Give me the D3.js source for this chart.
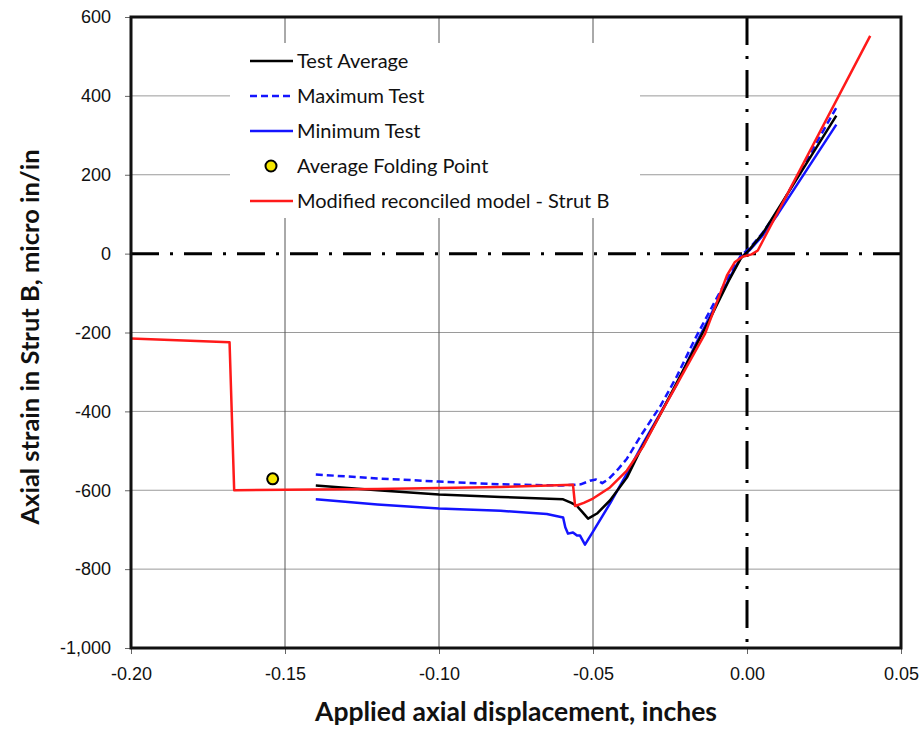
<!DOCTYPE html>
<html>
<head>
<meta charset="utf-8">
<script src="https://cdn.jsdelivr.net/npm/d3@7"></script>
<style>
  body { margin: 0; background: #fff; }
  svg { font-family: Lato, "Open Sans", sans-serif; }
</style>
</head>
<body>
<div id="chart"></div>
<script>
// x: applied axial displacement (in), y: axial strain (micro in/in)
const testAverage = [
  [-0.140, -588], [-0.120, -600], [-0.100, -611], [-0.080, -617], [-0.0597, -623],
  [-0.057, -632], [-0.0552, -640], [-0.0535, -655], [-0.0516, -672], [-0.0487, -659],
  [-0.0445, -626], [-0.039, -568], [-0.0347, -500], [-0.028, -405], [-0.020, -285],
  [-0.012, -165], [-0.006, -70], [-0.002, -12], [0.001, 12], [0.005, 50],
  [0.010, 112], [0.029, 350]
];
const maximumTest = [
  [-0.140, -560], [-0.120, -570], [-0.100, -578], [-0.080, -585], [-0.060, -588],
  [-0.054, -585], [-0.051, -576], [-0.049, -573], [-0.047, -582], [-0.045, -572],
  [-0.042, -548], [-0.039, -520], [-0.034, -456], [-0.028, -385], [-0.0227, -310],
  [-0.017, -218], [-0.010, -115], [-0.005, -45], [-0.002, -5], [0.001, 15],
  [0.005, 52], [0.010, 108], [0.029, 370]
];
const minimumTest = [
  [-0.140, -623], [-0.120, -636], [-0.100, -646], [-0.080, -652], [-0.065, -660],
  [-0.0597, -669], [-0.059, -694], [-0.0581, -710], [-0.0565, -707], [-0.0552, -715],
  [-0.0542, -715], [-0.0526, -738], [-0.050, -705], [-0.0445, -634], [-0.039, -558],
  [-0.0338, -482], [-0.0282, -406], [-0.0227, -330], [-0.017, -235], [-0.010, -128],
  [-0.005, -52], [-0.002, -10], [0.001, 10], [0.005, 45], [0.010, 100], [0.029, 327]
];
const modelStrutB = [
  [-0.200, -215], [-0.168, -225], [-0.1665, -600], [-0.120, -597], [-0.080, -592],
  [-0.0565, -586], [-0.0558, -640], [-0.053, -632], [-0.050, -621], [-0.0445, -593],
  [-0.039, -550], [-0.0338, -490], [-0.028, -405], [-0.0136, -203], [-0.0065, -55],
  [-0.004, -22], [-0.0015, -8], [0.0015, -2], [0.0035, 8], [0.040, 552]
];
const foldingPoint = [[-0.154, -571]];

const xTicks = [-0.20, -0.15, -0.10, -0.05, 0.00, 0.05];
const yTicks = [600, 400, 200, 0, -200, -400, -600, -800, -1000];

const legendItems = [
  { label: "Test Average", type: "line", color: "#000000", dash: null },
  { label: "Maximum Test", type: "line", color: "#1414ff", dash: "7,4" },
  { label: "Minimum Test", type: "line", color: "#1414ff", dash: null },
  { label: "Average Folding Point", type: "dot" },
  { label: "Modified reconciled model - Strut B", type: "line", color: "#ff1a1a", dash: null }
];

const width = 924, height = 732;
const margin = { top: 17, right: 23, bottom: 84, left: 131 };
const w = width - margin.left - margin.right;
const h = height - margin.top - margin.bottom;

// hyphen minus, like the original
const hyphen = (f) => (d) => f(d).replace("\u2212", "-");

const svg = d3.select("#chart").append("svg")
  .attr("width", width)
  .attr("height", height);

const g = svg.append("g")
  .attr("transform", `translate(${margin.left},${margin.top})`);

const x = d3.scaleLinear().domain([-0.20, 0.05]).range([0, w]);
const y = d3.scaleLinear().domain([-1000, 600]).range([h, 0]);

// horizontal grid
g.append("g")
  .selectAll("line")
  .data(yTicks.filter((d) => d !== 0 && d !== 600 && d !== -1000))
  .join("line")
  .attr("x1", 0).attr("x2", w)
  .attr("y1", (d) => y(d)).attr("y2", (d) => y(d))
  .attr("stroke", "#9a9a9a")
  .attr("stroke-width", 1);

// vertical grid
g.append("g")
  .selectAll("line")
  .data(xTicks.filter((d) => d > -0.2 && d < 0))
  .join("line")
  .attr("x1", (d) => x(d)).attr("x2", (d) => x(d))
  .attr("y1", 0).attr("y2", h)
  .attr("stroke", "#555")
  .attr("stroke-width", 1);

// legend background hides the grid behind it
const legendX = 230 - margin.left, legendY = 43 - margin.top;
g.append("rect")
  .attr("x", legendX).attr("y", legendY)
  .attr("width", 410).attr("height", 175)
  .attr("fill", "#fff");

// zero lines, dash-dot
g.append("line")
  .attr("x1", 0).attr("x2", w)
  .attr("y1", y(0)).attr("y2", y(0))
  .attr("stroke", "#000").attr("stroke-width", 3)
  .attr("stroke-dasharray", "28,11,3,11");
g.append("line")
  .attr("x1", x(0)).attr("x2", x(0))
  .attr("y1", 0).attr("y2", h)
  .attr("stroke", "#000").attr("stroke-width", 3)
  .attr("stroke-dasharray", "28,11,3,11");

// axes
const xAxis = g.append("g")
  .attr("transform", `translate(0,${h})`)
  .call(d3.axisBottom(x).tickValues(xTicks).tickFormat(hyphen(d3.format(".2f"))).tickSize(6).tickPadding(10));
const yAxis = g.append("g")
  .call(d3.axisLeft(y).tickValues(yTicks).tickFormat(hyphen(d3.format(","))).tickSize(6).tickPadding(14));

[xAxis, yAxis].forEach((a) => {
  a.select(".domain").remove();
  a.selectAll(".tick line").attr("stroke", "#666");
  a.selectAll("text").attr("font-size", 18).attr("fill", "#111");
});
xAxis.selectAll("text").attr("dy", "0.9em");

// series
const line = d3.line().x((d) => x(d[0])).y((d) => y(d[1]));

const series = [
  { data: minimumTest, color: "#1414ff", dash: null },
  { data: maximumTest, color: "#1414ff", dash: "7,4" },
  { data: testAverage, color: "#000000", dash: null },
  { data: modelStrutB, color: "#ff1a1a", dash: null }
];

g.append("g")
  .selectAll("path")
  .data(series)
  .join("path")
  .attr("d", (d) => line(d.data))
  .attr("fill", "none")
  .attr("stroke", (d) => d.color)
  .attr("stroke-width", 2.5)
  .attr("stroke-linejoin", "round")
  .attr("stroke-dasharray", (d) => d.dash);

g.selectAll(".fold")
  .data(foldingPoint)
  .join("circle")
  .attr("class", "fold")
  .attr("cx", (d) => x(d[0]))
  .attr("cy", (d) => y(d[1]))
  .attr("r", 5.5)
  .attr("fill", "#f5e600")
  .attr("stroke", "#000")
  .attr("stroke-width", 2);

// frame
g.append("rect")
  .attr("x", 0).attr("y", 0)
  .attr("width", w).attr("height", h)
  .attr("fill", "none")
  .attr("stroke", "#111")
  .attr("stroke-width", 3);

// legend
const legend = svg.append("g");
const rows = legend.selectAll("g")
  .data(legendItems)
  .join("g")
  .attr("transform", (d, i) => `translate(250,${61 + i * 35})`);

rows.filter((d) => d.type === "line")
  .append("line")
  .attr("x1", 0).attr("x2", 43)
  .attr("stroke", (d) => d.color)
  .attr("stroke-width", 2.5)
  .attr("stroke-dasharray", (d) => d.dash);

rows.filter((d) => d.type === "dot")
  .append("circle")
  .attr("cx", 21).attr("r", 5.5)
  .attr("fill", "#f5e600")
  .attr("stroke", "#000")
  .attr("stroke-width", 2);

rows.append("text")
  .attr("x", 47)
  .attr("dy", "0.36em")
  .attr("font-size", 20)
  .attr("fill", "#111")
  .text((d) => d.label);

// axis titles
svg.append("text")
  .attr("x", margin.left + w / 2)
  .attr("y", 721)
  .attr("text-anchor", "middle")
  .attr("font-size", 26.5)
  .attr("font-weight", "bold")
  .attr("fill", "#111")
  .text("Applied axial displacement, inches");

svg.append("text")
  .attr("transform", `translate(39,${337}) rotate(-90)`)
  .attr("text-anchor", "middle")
  .attr("font-size", 25.5)
  .attr("font-weight", "bold")
  .attr("fill", "#111")
  .text("Axial strain in Strut B, micro in/in");
</script>
</body>
</html>
